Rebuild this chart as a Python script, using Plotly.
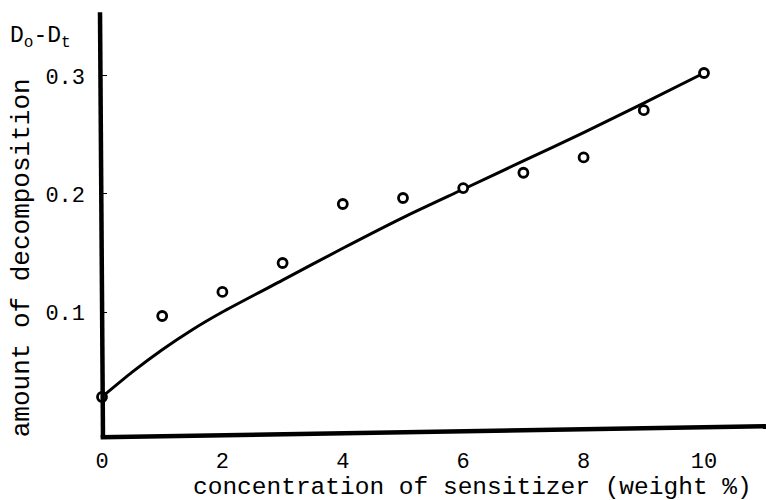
import plotly.graph_objects as go

# data
conc_points = [0, 1, 2, 3, 4, 5, 6, 7, 8, 9, 10]
decomp_points = [0.028, 0.0966, 0.117, 0.1415, 0.1915, 0.1966, 0.205, 0.218, 0.231, 0.271, 0.3025]

curve_x = [0, 0.5, 1, 1.5, 2, 3, 4, 5, 6, 7, 8, 9, 10]
curve_y = [0.028, 0.049, 0.068, 0.085, 0.100, 0.127, 0.154, 0.180, 0.204, 0.228, 0.252, 0.277, 0.3025]

x_ticks = [0, 2, 4, 6, 8, 10]
y_ticks = [0.1, 0.2, 0.3]
y_tick_text = ["0.1", "0.2", "0.3"]

FONT = "Liberation Mono"

fig = go.Figure()
fig.add_trace(go.Scatter(
    x=curve_x, y=curve_y, mode="lines",
    line=dict(color="black", width=3, shape="spline", smoothing=0.6),
    hoverinfo="skip", showlegend=False, cliponaxis=False,
))
fig.add_trace(go.Scatter(
    x=conc_points, y=decomp_points, mode="markers",
    marker=dict(symbol="circle", size=9, color="white",
                line=dict(color="black", width=2.8)),
    showlegend=False, cliponaxis=False,
))

fig.update_layout(
    width=766, height=500,
    margin=dict(l=102, r=0, t=10, b=55),
    paper_bgcolor="white", plot_bgcolor="white",
    font=dict(family=FONT, color="black", size=22),
    xaxis=dict(range=[0, 11.03], tickvals=x_ticks, showgrid=False, zeroline=False,
               showline=False, ticks="", tickfont=dict(size=22, family=FONT)),
    yaxis=dict(range=[-0.0127, 0.3559], tickvals=y_ticks, ticktext=y_tick_text,
               showgrid=False, zeroline=False, showline=False,
               ticks="inside", ticklen=5, tickwidth=1, tickcolor="black",
               ticklabelstandoff=16, tickfont=dict(size=22, family=FONT)),
    shapes=[
        # hand-drawn axes (slightly slanted in the original)
        dict(type="line", xref="paper", yref="paper", x0=-0.003, y0=0.995, x1=0.0015, y1=0.016,
             line=dict(color="black", width=4.5)),
        dict(type="line", xref="paper", yref="paper", x0=-0.002, y0=0.018, x1=1.0, y1=0.043,
             line=dict(color="black", width=4.5)),
    ],
    annotations=[
        dict(text="concentration of sensitizer (weight %)", xref="paper", yref="paper",
             x=0.558, y=-0.097, showarrow=False, xanchor="center", yanchor="middle",
             font=dict(size=24.5, family=FONT)),
        dict(text="amount of decomposition", xref="paper", yref="paper",
             x=-0.12, y=0.43, showarrow=False, textangle=-90, xanchor="center", yanchor="middle",
             font=dict(size=26, family=FONT)),
        dict(text="D<sub>o</sub>-D<sub>t</sub>", xref="paper", yref="paper",
             x=-0.142, y=0.975, showarrow=False, xanchor="left", yanchor="top",
             font=dict(size=23, family=FONT)),
    ],
)

fig.write_html("out.html")
